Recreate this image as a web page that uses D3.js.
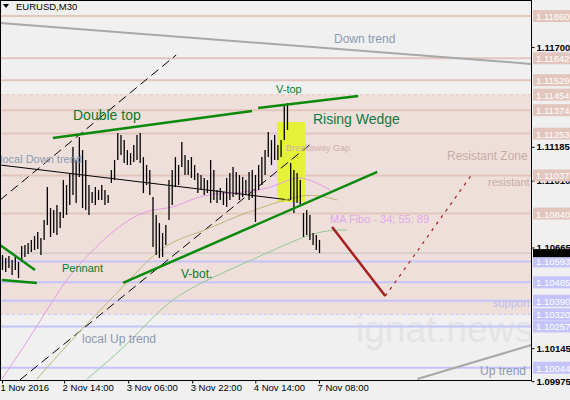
<!DOCTYPE html>
<html><head><meta charset="utf-8">
<script src="https://cdn.jsdelivr.net/npm/d3@7"></script>
<style>body{margin:0;background:#f0f0f0}svg{display:block}text{font-family:"Liberation Sans",Arial,sans-serif}</style>
</head><body><svg id="c" width="570" height="400"></svg>
<script>
const highs=[1.10626,1.10611,1.10621,1.10600,1.10616,1.10590,1.10673,1.10678,1.10688,1.10704,1.10724,1.10745,1.10714,1.10807,1.10977,1.10869,1.10858,1.10884,1.10848,1.11013,1.10988,1.11050,1.11184,1.11117,1.11236,1.11168,1.11117,1.10988,1.10952,1.10977,1.10962,1.10988,1.10962,1.10936,1.11065,1.11117,1.11256,1.11246,1.11220,1.11168,1.11153,1.11194,1.11246,1.11256,1.11132,1.11091,1.11065,1.10926,1.10833,1.10791,1.10740,1.10781,1.11013,1.11065,1.11132,1.11091,1.11210,1.11143,1.11117,1.11132,1.11091,1.11050,1.11039,1.11024,1.11013,1.11117,1.11065,1.10962,1.10972,1.10952,1.11024,1.11050,1.11081,1.11055,1.11039,1.11029,1.11013,1.11055,1.11065,1.11039,1.11091,1.11132,1.11168,1.11261,1.11220,1.11246,1.11194,1.11220,1.11401,1.11410,1.11101,1.11065,1.11050,1.11013,1.10843,1.10858,1.10833,1.10740,1.10729,1.10704];
const lows=[1.10549,1.10538,1.10559,1.10523,1.10549,1.10507,1.10590,1.10616,1.10631,1.10642,1.10652,1.10657,1.10626,1.10704,1.10781,1.10719,1.10740,1.10729,1.10766,1.10817,1.10833,1.10884,1.10936,1.10895,1.11029,1.10869,1.10858,1.10833,1.10895,1.10884,1.10910,1.10910,1.10884,1.10895,1.10998,1.11013,1.11117,1.11143,1.11101,1.11091,1.11091,1.11106,1.11117,1.11101,1.10946,1.10988,1.10936,1.10668,1.10626,1.10611,1.10616,1.10678,1.10807,1.10884,1.10977,1.10988,1.11081,1.11039,1.11039,1.11024,1.11013,1.10946,1.10962,1.10936,1.10946,1.10895,1.10910,1.10895,1.10910,1.10884,1.10874,1.10910,1.10926,1.10936,1.10910,1.10926,1.10936,1.10910,1.10921,1.10797,1.10962,1.10988,1.11039,1.11132,1.11091,1.11117,1.11117,1.11132,1.11220,1.11272,1.10910,1.10843,1.10895,1.10884,1.10719,1.10729,1.10704,1.10678,1.10652,1.10636];
const pinkLevels=[1.11860,1.11642,1.11529,1.11454,1.11374,1.11253,1.11037,1.10840];
const blueLevels=[1.10593,1.10485,1.10390,1.10320,1.10257,1.10044];
const priceTicks=[1.11700,1.11185,1.11010,1.10665,1.10145,1.09975];
const timeTickIdx=[0,19.4,39.4,59.4,79.1,99];
const timeLabels=["1 Nov 2016","2 Nov 14:00","3 Nov 06:00","3 Nov 22:00","4 Nov 14:00","7 Nov 08:00"];
const bidPrice=1.10636;
const maViolet=[[0,1.09986],[9.7,1.10223],[20.3,1.10513],[27.5,1.10636],[34.7,1.10755],[45.3,1.10869],[53.4,1.10859],[61.9,1.10946],[78.4,1.10946],[87.8,1.10998],[93.1,1.11044],[102.5,1.10962]];
const maOlive=[[10.9,1.09986],[25.3,1.10254],[39.1,1.10482],[50.3,1.10688],[61.9,1.10740],[72.2,1.10822],[87.8,1.10910],[96.3,1.10946],[104.7,1.10910]];
const maGreen=[[26.6,1.09986],[40.9,1.10187],[51.6,1.10394],[65.9,1.10513],[82.8,1.10636],[98.4,1.10755],[107.8,1.10755]];

const svg=d3.select("#c");
const W=531,H=380;
const x=d3.scaleLinear().domain([0,99]).range([2,319]);
const y=d3.scaleLinear().domain([1.09929,1.11943]).range([390,0]);
const defs=svg.append("defs");
defs.append("clipPath").attr("id","cp").append("rect").attr("width",W).attr("height",H);
const g=svg.append("g").attr("clip-path","url(#cp)");
g.append("rect").attr("width",W).attr("height",H).attr("fill","#f0f0f0");
g.append("rect").attr("x",0).attr("y",y(1.11454)).attr("width",W).attr("height",y(1.10320)-y(1.11454)).attr("fill","#efdfdb");
g.append("text").attr("x",356).attr("y",342).attr("font-size",37).attr("fill","#e4e4e4").text("ignat.news");
pinkLevels.forEach(p=>{g.append("line").attr("x1",0).attr("x2",W).attr("y1",y(p)).attr("y2",y(p)).attr("stroke","#e2c6be").attr("stroke-dasharray",p===1.11454?"3,3":null).attr("stroke-width",p===1.11454?1:2);});
blueLevels.forEach(p=>{g.append("line").attr("x1",0).attr("x2",W).attr("y1",y(p)).attr("y2",y(p)).attr("stroke","#c4c4fa").attr("stroke-width",p===1.10320?1:2).attr("stroke-dasharray",p===1.10320?"3,3":null);});
g.append("line").attr("x1",0).attr("x2",W).attr("y1",y(bidPrice)).attr("y2",y(bidPrice)).attr("stroke","#c0c0c0");
g.append("rect").attr("x",x(85.9)).attr("y",y(1.11313)).attr("width",x(94.7)-x(85.9)).attr("height",y(1.10900)-y(1.11313)).attr("fill","#e6f23a");
const L=(a,b,c,w,dash)=>g.append("line").attr("x1",x(a[0])).attr("y1",y(a[1])).attr("x2",x(b[0])).attr("y2",y(b[1])).attr("stroke",c).attr("stroke-width",w).attr("stroke-dasharray",dash||null);
L([-0.6,1.11824],[165.3,1.11613],"#a8a8a8",2);
L([129.7,1.09986],[165.3,1.10161],"#a8a8a8",2);
L([-0.6,1.10910],[54.4,1.11659],"#000",1,"9,5");
L([5.6,1.09981],[97.2,1.11210],"#000",1,"9,5");
L([-0.6,1.11091],[90,1.10910],"#000",1);
const line=d3.line().x(d=>x(d[0])).y(d=>y(d[1])).curve(d3.curveBasis);
[[maViolet,"#e39be3"],[maOlive,"#c0b478"],[maGreen,"#94c894"]].forEach(([d,c])=>g.append("path").attr("d",line(d)).attr("fill","none").attr("stroke",c).attr("stroke-width",1));
g.selectAll(".b").data(highs).join("line").attr("x1",(d,i)=>x(i)+0.5).attr("x2",(d,i)=>x(i)+0.5).attr("y1",d=>y(d)).attr("y2",(d,i)=>y(lows[i])).attr("stroke","#000").attr("stroke-width",1.3);
L([15.9,1.11230],[78.1,1.11370],"#0a8a0a",2.5);
L([80,1.11385],[111.25,1.11447],"#0a8a0a",2.5);
L([37.8,1.10482],[117.2,1.11055],"#0a8a0a",2.5);
L([-0.6,1.10678],[10.3,1.10549],"#0a8a0a",2.5);
L([0,1.10497],[10.9,1.10482],"#0a8a0a",2.5);
L([103.1,1.10771],[119.7,1.10414],"#a52020",2.5);
L([119.7,1.10414],[146.6,1.11039],"#a52020",1.2,"3,5");
const T=(t,px,py,c,s)=>g.append("text").attr("x",px).attr("y",py).attr("fill",c).attr("font-size",s).text(t);
T("Down trend",334,43,"#8a9ab0",12);
T("V-top",276,93,"#0a7a3a",11);
T("Double top",73,120,"#0a7a2a",14);
T("Rising Wedge",313,124,"#0a7a4a",14);
T("Breakaway Gap",286,151,"#d0b0a8",9);
T("local Down trend",0,163,"#8a9ab0",11);
T("Resistant Zone",447,160,"#c8aca4",12);
T("resistant",488,186,"#c8aca4",11);
T("MA Fibo - 34; 55; 89",330,223,"#e0a8e8",11);
T("Pennant",62,272,"#0a7a2a",11);
T("V-bot.",181,278,"#0a7a2a",12);
T("support",493,307,"#bcbcf0",11);
T("local Up trend",82,343,"#8a9ab0",12);
T("Up trend",480,375,"#8a9ab0",12);
svg.append("path").attr("d","M3,4 L9,4 L6,8 Z").attr("fill","#000");
svg.append("text").attr("x",16).attr("y",10).attr("font-size",9.5).attr("fill","#000").text("EURUSD,M30");
svg.append("rect").attr("x",0.5).attr("y",0.5).attr("width",W).attr("height",H).attr("fill","none").attr("stroke","#000");
const ya=svg.append("g").attr("transform",`translate(${W+0.5},0)`).call(d3.axisRight(y).tickValues(priceTicks).tickFormat(d3.format(".5f")).tickSize(3).tickPadding(2));
ya.select(".domain").remove();
ya.selectAll("text").attr("font-size",9.5).attr("font-weight","bold").attr("fill","#000").style("font-family","Liberation Sans, Arial");
const lab=(p,c)=>{svg.append("rect").attr("x",533).attr("y",y(p)-6).attr("width",37).attr("height",12).attr("fill",c);
 svg.append("text").attr("x",536).attr("y",y(p)+4).attr("font-size",9.5).attr("fill","#fff").text(p.toFixed(5));};
pinkLevels.forEach(p=>lab(p,"#e2c6be"));
blueLevels.forEach(p=>lab(p,"#c4c4fa"));
svg.append("rect").attr("x",533).attr("y",y(bidPrice)-4).attr("width",37).attr("height",8).attr("fill","#000");
const xa=svg.append("g").attr("transform",`translate(0,${H+0.5})`).call(d3.axisBottom(x).tickValues(timeTickIdx).tickFormat((d,i)=>timeLabels[i]).tickSize(3).tickPadding(1));
xa.select(".domain").remove();
xa.selectAll("text").attr("text-anchor","start").attr("font-size",9.5).attr("fill","#000").attr("dx",-2);
</script></body></html>
